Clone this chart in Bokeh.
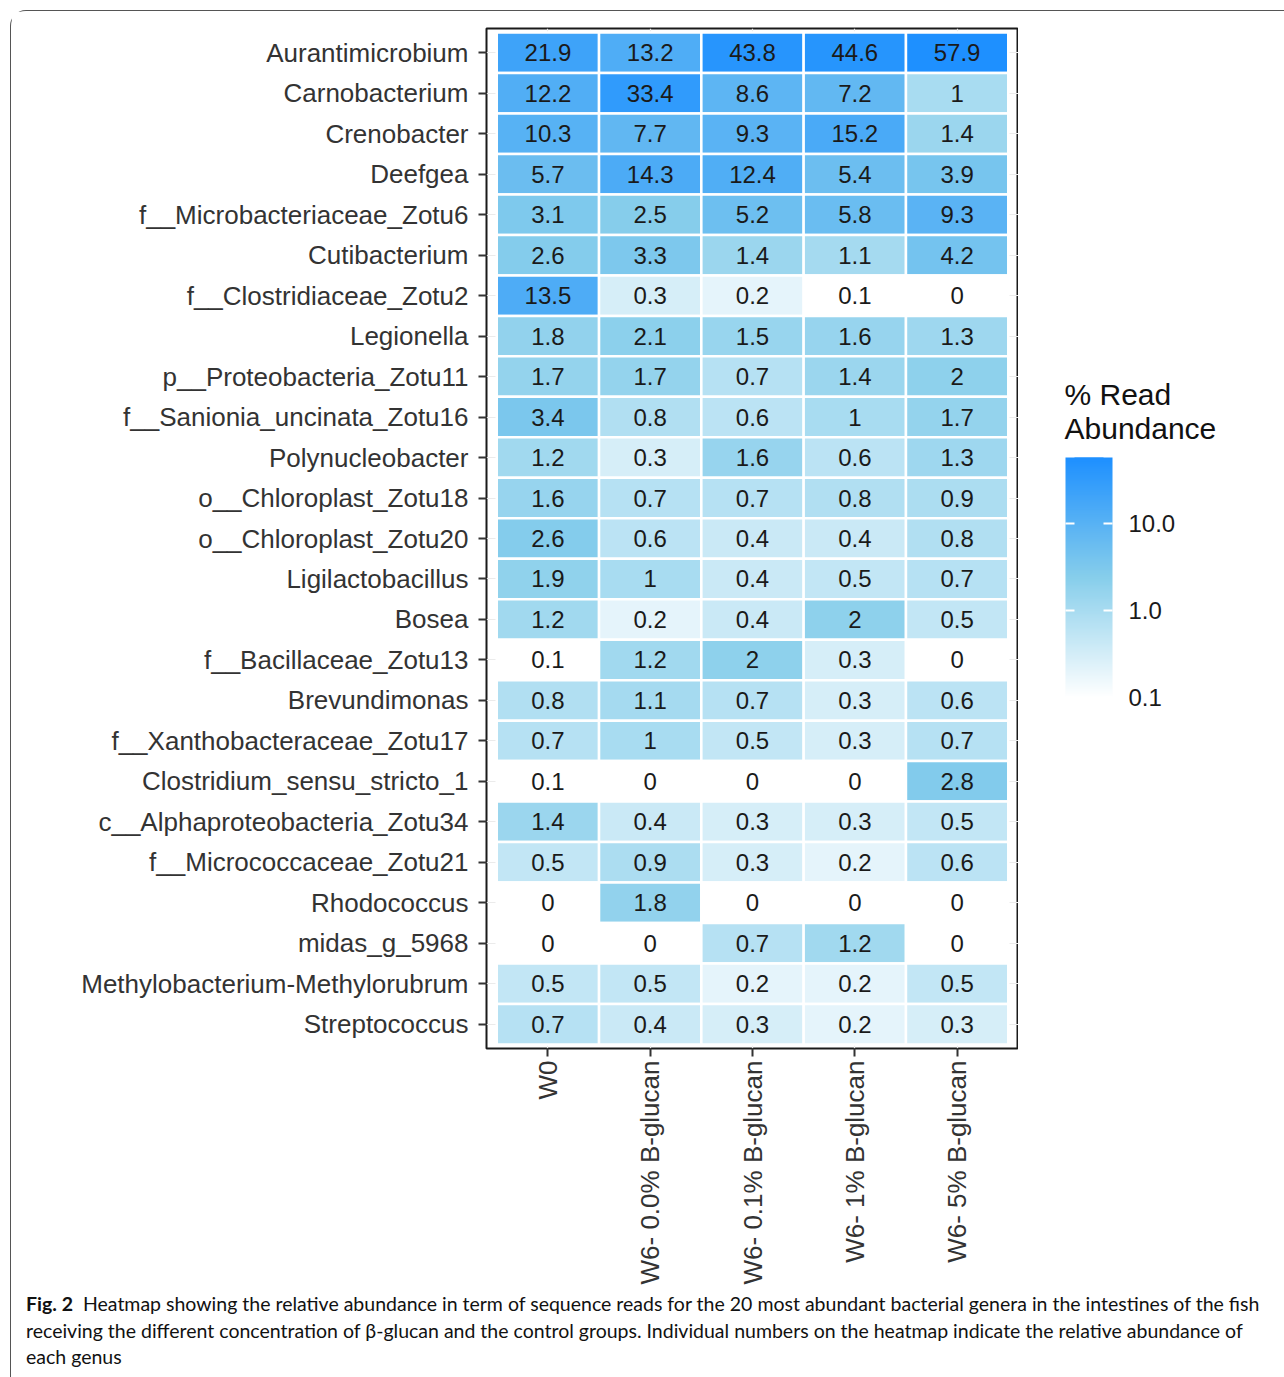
import numpy as np
from bokeh.plotting import figure
from bokeh.layouts import column, row
from bokeh.models import (FactorRange, Range1d, ColumnDataSource, LogColorMapper, ColorBar,
                          FixedTicker, PrintfTickFormatter, Div)
from bokeh.core.properties import value
from bokeh.embed import file_html
from bokeh.resources import INLINE

genera = [
    "Aurantimicrobium", "Carnobacterium", "Crenobacter", "Deefgea",
    "f__Microbacteriaceae_Zotu6", "Cutibacterium", "f__Clostridiaceae_Zotu2",
    "Legionella", "p__Proteobacteria_Zotu11", "f__Sanionia_uncinata_Zotu16",
    "Polynucleobacter", "o__Chloroplast_Zotu18", "o__Chloroplast_Zotu20",
    "Ligilactobacillus", "Bosea", "f__Bacillaceae_Zotu13", "Brevundimonas",
    "f__Xanthobacteraceae_Zotu17", "Clostridium_sensu_stricto_1",
    "c__Alphaproteobacteria_Zotu34", "f__Micrococcaceae_Zotu21", "Rhodococcus",
    "midas_g_5968", "Methylobacterium-Methylorubrum", "Streptococcus",
]
groups = ["W0", "W6- 0.0% B-glucan", "W6- 0.1% B-glucan", "W6- 1% B-glucan", "W6- 5% B-glucan"]

w0 =      [21.9, 12.2, 10.3, 5.7, 3.1, 2.6, 13.5, 1.8, 1.7, 3.4, 1.2, 1.6, 2.6, 1.9, 1.2, 0.1, 0.8, 0.7, 0.1, 1.4, 0.5, 0, 0, 0.5, 0.7]
w6_0_0 =  [13.2, 33.4, 7.7, 14.3, 2.5, 3.3, 0.3, 2.1, 1.7, 0.8, 0.3, 0.7, 0.6, 1, 0.2, 1.2, 1.1, 1, 0, 0.4, 0.9, 1.8, 0, 0.5, 0.4]
w6_0_1 =  [43.8, 8.6, 9.3, 12.4, 5.2, 1.4, 0.2, 1.5, 0.7, 0.6, 1.6, 0.7, 0.4, 0.4, 0.4, 2, 0.7, 0.5, 0, 0.3, 0.3, 0, 0.7, 0.2, 0.3]
w6_1 =    [44.6, 7.2, 15.2, 5.4, 5.8, 1.1, 0.1, 1.6, 1.4, 1, 0.6, 0.8, 0.4, 0.5, 2, 0.3, 0.3, 0.3, 0, 0.3, 0.2, 0, 1.2, 0.2, 0.2]
w6_5 =    [57.9, 1, 1.4, 3.9, 9.3, 4.2, 0, 1.3, 2, 1.7, 1.3, 0.9, 0.8, 0.7, 0.5, 0, 0.6, 0.7, 2.8, 0.5, 0.6, 0, 0, 0.5, 0.3]
series = [w0, w6_0_0, w6_0_1, w6_1, w6_5]

colorbar_ticks = [0.1, 1.0, 10.0]
colorbar_title = ["% Read", "Abundance"]

caption_bold = "Fig. 2"
caption_lines = [
    "Heatmap showing the relative abundance in term of sequence reads for the 20 most abundant bacterial genera in the intestines of the fish",
    "receiving the different concentration of \u03b2-glucan and the control groups. Individual numbers on the heatmap indicate the relative abundance of",
    "each genus",
]


def hex_to_rgb(h):
    h = h.lstrip("#")
    return [int(h[i:i + 2], 16) for i in (0, 2, 4)]


stops = [hex_to_rgb(c) for c in ("#FFFFFF", "#87CEEB", "#1E90FF")]
palette = []
n = 256
for i in range(n):
    t = i / (n - 1) * 2
    k = min(int(t), 1)
    f = t - k
    a, b = stops[k], stops[k + 1]
    rgb = [round(a[j] + (b[j] - a[j]) * f) for j in range(3)]
    palette.append("#%02x%02x%02x" % tuple(rgb))

xs, ys, vals, labels = [], [], [], []
for g, col in zip(groups, series):
    for name, v in zip(genera, col):
        xs.append(g)
        ys.append(name)
        vals.append(v)
        labels.append(f"{v:g}")
src = ColumnDataSource(dict(x=xs, y=ys, val=vals, label=labels))

mapper = LogColorMapper(palette=palette, low=0.099, high=max(max(s) for s in series),
                        low_color="#FFFFFF", nan_color="#FFFFFF")

# page origin of the content: 10px margin + 1px border
O = 11
W, HP, HC = 1272, 1279, 86
FRAME_L, FRAME_T, FRAME_R, FRAME_B = 486, 28, 1018, 1048
WP = FRAME_R - O           # main figure width (no right border)
WS = W - WP                # side (colour key) figure width

p = figure(
    width=WP, height=HP, output_backend="svg", toolbar_location=None,
    x_range=FactorRange(factors=groups, range_padding=0.1, range_padding_units="absolute"),
    y_range=FactorRange(factors=list(reversed(genera)), range_padding=0.1, range_padding_units="absolute"),
    min_border_left=FRAME_L - O, min_border_top=FRAME_T - O,
    min_border_right=0, min_border_bottom=HP - (FRAME_B - O),
)
p.background_fill_color = "white"
p.border_fill_color = "white"
p.outline_line_color = "#1a1a1a"
p.outline_line_width = 2

p.xgrid.grid_line_color = "#EBEBEB"
p.ygrid.grid_line_color = "#EBEBEB"
p.xgrid.grid_line_width = 1.2
p.ygrid.grid_line_width = 1.2

p.rect(x="x", y="y", width=1, height=1, source=src,
       fill_color={"field": "val", "transform": mapper},
       line_color="white", line_width=2.5)
p.text(x="x", y="y", text="label", source=src, text_align="center", text_baseline="middle",
       text_font=value("Liberation Sans"), text_font_size="24px", text_color="#1a1a1a")

for ax in (p.xaxis[0], p.yaxis[0]):
    ax.axis_line_color = None
    ax.major_tick_line_color = "#333333"
    ax.major_tick_line_width = 2
    ax.major_tick_out = 8
    ax.major_tick_in = 0
    ax.minor_tick_line_color = None
    ax.major_label_text_font = "Liberation Sans"
    ax.major_label_text_font_size = "26px"
    ax.major_label_text_color = "#333333"
p.yaxis.major_label_standoff = 10
p.xaxis.major_label_standoff = 4
p.xaxis.major_label_orientation = np.pi / 2

# side figure holding the colour key; its frame spans page x 1018..(1018+WS), y 28..1048
side = figure(
    width=WS, height=HP, output_backend="svg", toolbar_location=None,
    x_range=Range1d(FRAME_R, FRAME_R + WS), y_range=Range1d(FRAME_B, FRAME_T),
    min_border_left=0, min_border_right=0, min_border_top=FRAME_T - O,
    min_border_bottom=HP - (FRAME_B - O),
)
side.axis.visible = False
side.grid.visible = False
side.outline_line_color = None
side.background_fill_color = "white"
side.border_fill_color = "white"

BAR_X, BAR_W, BAR_H, TICK = 1065 - FRAME_R, 47, 240, 9
cb = ColorBar(color_mapper=mapper, location=(BAR_X, FRAME_B - 697), width=BAR_W, height=BAR_H,
              padding=0, ticker=FixedTicker(ticks=colorbar_ticks),
              formatter=PrintfTickFormatter(format="%.1f"),
              major_label_text_font="Liberation Sans", major_label_text_font_size="24px",
              major_label_text_color="#1a1a1a",
              major_tick_line_color="white", major_tick_line_width=2,
              major_tick_in=BAR_W, major_tick_out=0, minor_tick_line_color=None,
              label_standoff=16, bar_line_color=None, border_line_color=None,
              background_fill_alpha=0)
side.add_layout(cb, "center")
# narrower copy on top hides the middle of the tick lines, leaving ggplot-style ticks on both edges
cb_mid = ColorBar(color_mapper=mapper, location=(BAR_X + TICK, FRAME_B - 697),
                  width=BAR_W - 2 * TICK, height=BAR_H, padding=0, ticker=FixedTicker(ticks=[]),
                  major_tick_line_color=None, minor_tick_line_color=None,
                  bar_line_color=None, border_line_color=None, background_fill_alpha=0)
side.add_layout(cb_mid, "center")

side.text(x=[1064, 1064], y=[394, 428], text=colorbar_title, text_align="left",
          text_baseline="middle", text_font=value("Liberation Sans"), text_font_size="30px",
          text_color="#111111")

cap_html = (
    '<div style="padding-left:10px; margin-top:-4px; font-family:Lato, sans-serif; font-size:19.5px; '
    'line-height:26.5px; color:#111111; white-space:nowrap;">'
    f'<b>{caption_bold}</b>&nbsp; {caption_lines[0]}<br>{caption_lines[1]}<br>{caption_lines[2]}</div>'
)
cap = Div(text=cap_html, width=W, height=HC)

layout = column(row(p, side, spacing=0), cap, spacing=0, styles={
    "margin-left": "10px", "margin-top": "10px",
    "border-left": "1px solid #555555", "border-top": "1px solid #555555",
    "border-top-left-radius": "16px",
})

open("out.html", "w").write(file_html(layout, INLINE))
